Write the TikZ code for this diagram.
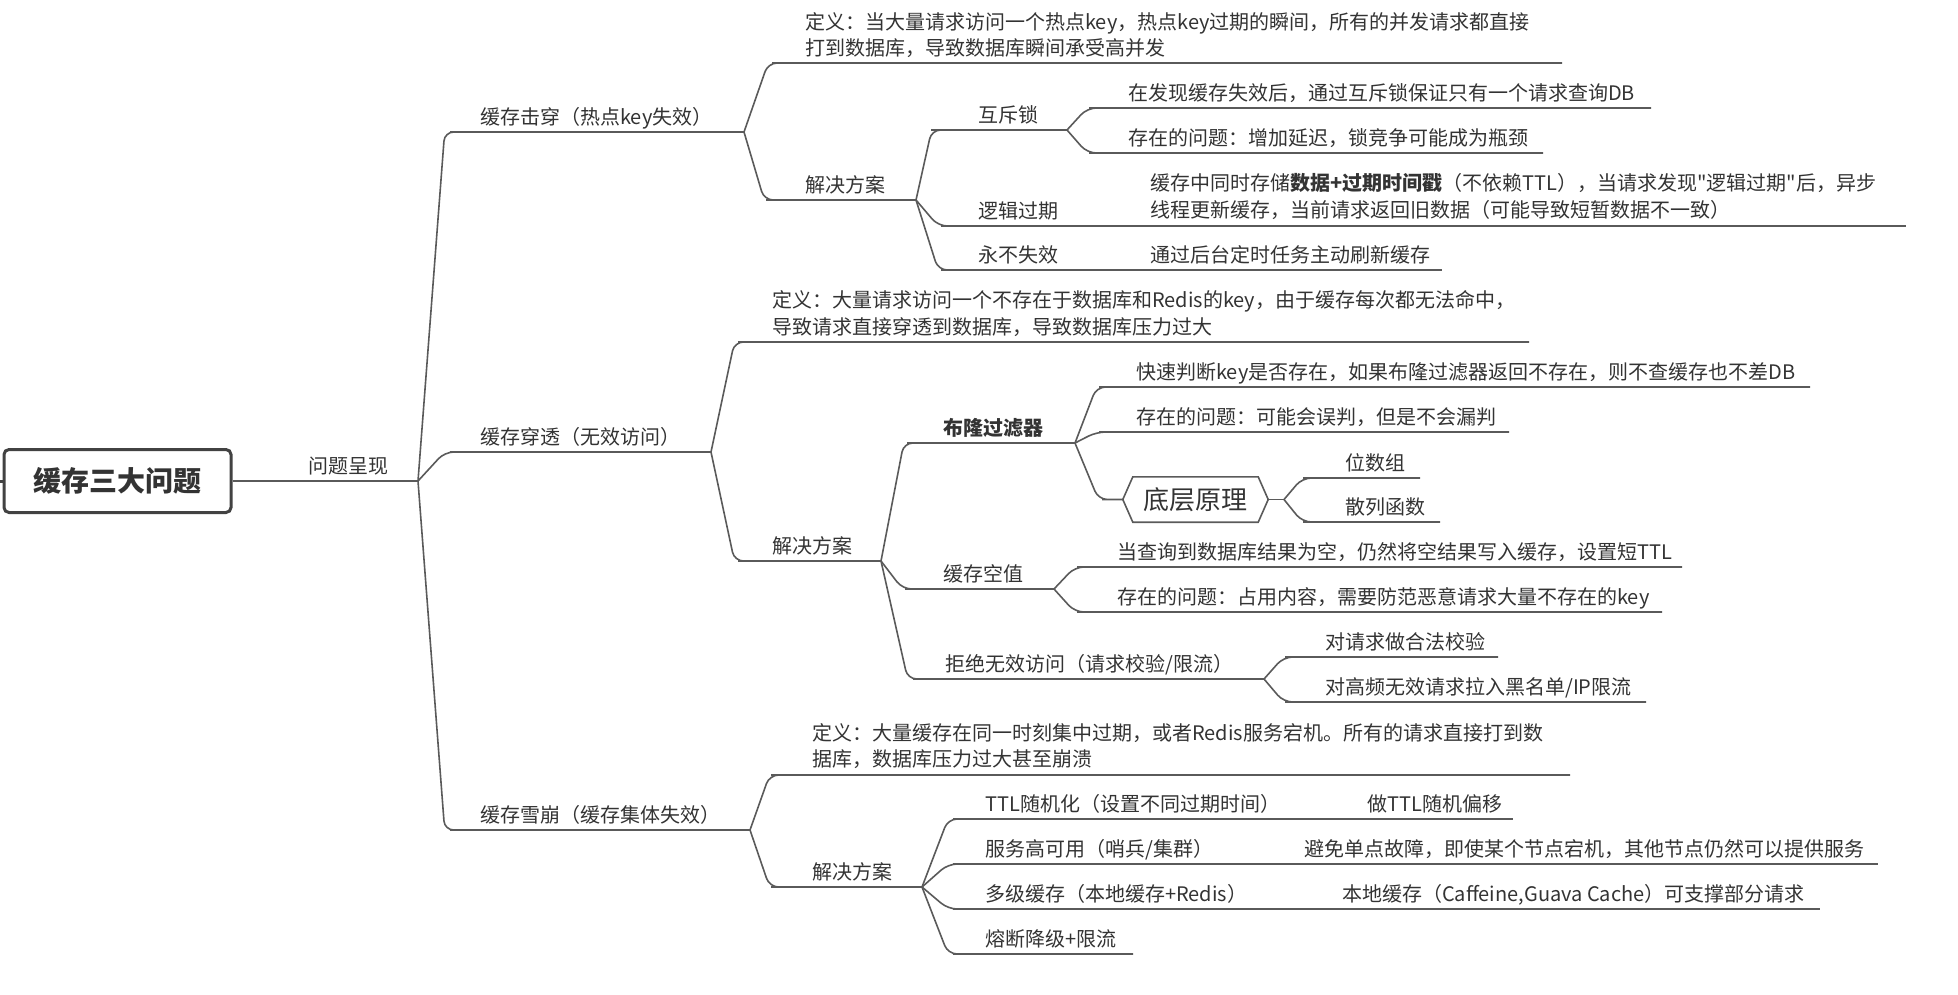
\documentclass[tikz,border=0pt]{standalone}
\usepackage{fontspec}
\setmainfont{Noto Sans CJK SC}[Ligatures=TeXOff]
\usetikzlibrary{calc}
\definecolor{textc}{HTML}{333333}
\definecolor{linec}{HTML}{5A5A5A}
\definecolor{rootc}{HTML}{424242}
\newcommand\brc[3]{\draw[conn] (#1) -- ($(#2)!0.35!(#1 |- #2)$) -- (#2) -- (#3);}
\tikzset{
  conn/.style={draw=linec, line width=1.6pt, rounded corners=9pt},
  txt/.style={anchor=base west, inner sep=0pt, text=textc, font=\fontsize{20}{26.5}\selectfont},
  mtxt/.style={anchor=west, align=left, inner sep=0pt, text=textc, font=\fontsize{20}{26.5}\selectfont},
  btxt/.style={txt, font=\fontsize{20}{26.5}\selectfont\bfseries},
  rootbox/.style={draw=rootc, line width=3pt, rounded corners=5pt, fill=white, minimum width=227pt, minimum height=63pt, inner sep=0pt, text=textc, font=\fontsize{28}{32}\selectfont\bfseries},
  hexn/.style={minimum width=145pt, minimum height=45pt, inner sep=0pt, text=textc, font=\fontsize{26}{30}\selectfont}
}
\begin{document}
\begin{tikzpicture}[x=1pt, y=-1pt]
\useasboundingbox (0,0) rectangle (1958,994);
% root
\node[rootbox] (root) at (117.5,481) {缓存三大问题};
\draw[draw=rootc, line width=3pt] (0,481) -- (root.west);
\coordinate (P-e) at (418,481);
\node[txt] (P) at (308,473) {问题呈现};
\draw[conn] (root.east) -- (P-e);

% ---------- A 缓存击穿
\coordinate (A-s) at (459,132); \coordinate (A-e) at (744,132);
\node[txt] (A) at (480,124) {缓存击穿（热点key失效）};
\brc{P-e}{A-s}{A-e}

\coordinate (A1-s) at (781,63); \coordinate (A1-e) at (1562,63);
\node[mtxt] (A1) at (805,35) {定义：当大量请求访问一个热点key，热点key过期的瞬间，所有的并发请求都直接\\打到数据库，导致数据库瞬间承受高并发};
\brc{A-e}{A1-s}{A1-e}

\coordinate (A2-s) at (775,200); \coordinate (A2-e) at (916,200);
\node[txt] (A2) at (805,192) {解决方案};
\brc{A-e}{A2-s}{A2-e}

\coordinate (A21-s) at (940,130); \coordinate (A21-e) at (1067,130);
\node[txt] (A21) at (978,122) {互斥锁};
\brc{A2-e}{A21-s}{A21-e}

\coordinate (A211-s) at (1098,108); \coordinate (A211-e) at (1651,108);
\node[txt] (A211) at (1128,100) {在发现缓存失效后，通过互斥锁保证只有一个请求查询DB};
\brc{A21-e}{A211-s}{A211-e}

\coordinate (A212-s) at (1098,153); \coordinate (A212-e) at (1543,153);
\node[txt] (A212) at (1128,145) {存在的问题：增加延迟，锁竞争可能成为瓶颈};
\brc{A21-e}{A212-s}{A212-e}

\coordinate (A22-s) at (950,226); \coordinate (A22-e) at (1095,226);
\node[txt] (A22) at (978,218) {逻辑过期};
\brc{A2-e}{A22-s}{A22-e}

\coordinate (A221-s) at (1110,226); \coordinate (A221-e) at (1906,226);
\node[mtxt] (A221) at (1150,196.5) {缓存中同时存储\textbf{数据+过期时间戳}（不依赖TTL），当请求发现"逻辑过期"后，异步\\线程更新缓存，当前请求返回旧数据（可能导致短暂数据不一致）};
\draw[conn] (A22-e) -- (A221-s) -- (A221-e);

\coordinate (A23-s) at (950,270); \coordinate (A23-e) at (1095,270);
\node[txt] (A23) at (978,262) {永不失效};
\brc{A2-e}{A23-s}{A23-e}

\coordinate (A231-s) at (1110,270); \coordinate (A231-e) at (1442,270);
\node[txt] (A231) at (1150,262) {通过后台定时任务主动刷新缓存};
\draw[conn] (A23-e) -- (A231-s) -- (A231-e);

% ---------- B 缓存穿透
\coordinate (B-s) at (459,452); \coordinate (B-e) at (711,452);
\node[txt] (B) at (480,444) {缓存穿透（无效访问）};
\brc{P-e}{B-s}{B-e}

\coordinate (B1-s) at (747,342); \coordinate (B1-e) at (1529,342);
\node[mtxt] (B1) at (772,313.5) {定义：大量请求访问一个不存在于数据库和Redis的key，由于缓存每次都无法命中，\\导致请求直接穿透到数据库，导致数据库压力过大};
\brc{B-e}{B1-s}{B1-e}

\coordinate (B2-s) at (747,561); \coordinate (B2-e) at (881,561);
\node[txt] (B2) at (772,553) {解决方案};
\brc{B-e}{B2-s}{B2-e}

\coordinate (B21-s) at (916,443); \coordinate (B21-e) at (1075,443);
\node[btxt] (B21) at (943,435) {布隆过滤器};
\brc{B2-e}{B21-s}{B21-e}

\coordinate (B211-s) at (1108,387); \coordinate (B211-e) at (1810,387);
\node[txt] (B211) at (1136,379) {快速判断key是否存在，如果布隆过滤器返回不存在，则不查缓存也不差DB};
\brc{B21-e}{B211-s}{B211-e}

\coordinate (B212-s) at (1108,432); \coordinate (B212-e) at (1509,432);
\node[txt] (B212) at (1136,424) {存在的问题：可能会误判，但是不会漏判};
\brc{B21-e}{B212-s}{B212-e}

\node[hexn] (hex) at (1195.5,499.5) {底层原理};
\draw[conn, sharp corners] (hex.west) -- ([xshift=10pt]hex.north west) -- ([xshift=-10pt]hex.north east) -- (hex.east) -- ([xshift=-10pt]hex.south east) -- ([xshift=10pt]hex.south west) -- cycle;
\coordinate (hex-s) at (1111,499.5); \coordinate (hex-e) at (1284,499.5);
\brc{B21-e}{hex-s}{hex.west}
\draw[conn] (hex.east) -- (hex-e);

\coordinate (B2131-s) at (1312,478); \coordinate (B2131-e) at (1420,478);
\node[txt] (B2131) at (1345,470) {位数组};
\brc{hex-e}{B2131-s}{B2131-e}

\coordinate (B2132-s) at (1312,522); \coordinate (B2132-e) at (1440,522);
\node[txt] (B2132) at (1345,514) {散列函数};
\brc{hex-e}{B2132-s}{B2132-e}

\coordinate (B22-s) at (914,589); \coordinate (B22-e) at (1054,589);
\node[txt] (B22) at (943,581) {缓存空值};
\brc{B2-e}{B22-s}{B22-e}

\coordinate (B221-s) at (1086,567); \coordinate (B221-e) at (1682,567);
\node[txt] (B221) at (1117,559) {当查询到数据库结果为空，仍然将空结果写入缓存，设置短TTL};
\brc{B22-e}{B221-s}{B221-e}

\coordinate (B222-s) at (1086,612); \coordinate (B222-e) at (1662,612);
\node[txt] (B222) at (1117,604) {存在的问题：占用内容，需要防范恶意请求大量不存在的key};
\brc{B22-e}{B222-s}{B222-e}

\coordinate (B23-s) at (922,679); \coordinate (B23-e) at (1264,679);
\node[txt] (B23) at (945,671) {拒绝无效访问（请求校验/限流）};
\brc{B2-e}{B23-s}{B23-e}

\coordinate (B231-s) at (1294,657); \coordinate (B231-e) at (1498,657);
\node[txt] (B231) at (1325,649) {对请求做合法校验};
\brc{B23-e}{B231-s}{B231-e}

\coordinate (B232-s) at (1294,702); \coordinate (B232-e) at (1646,702);
\node[txt] (B232) at (1325,694) {对高频无效请求拉入黑名单/IP限流};
\brc{B23-e}{B232-s}{B232-e}

% ---------- C 缓存雪崩
\coordinate (C-s) at (459,830); \coordinate (C-e) at (750,830);
\node[txt] (C) at (480,822) {缓存雪崩（缓存集体失效）};
\brc{P-e}{C-s}{C-e}

\coordinate (C1-s) at (780,775); \coordinate (C1-e) at (1570,775);
\node[mtxt] (C1) at (812,746) {定义：大量缓存在同一时刻集中过期，或者Redis服务宕机。所有的请求直接打到数\\据库，数据库压力过大甚至崩溃};
\brc{C-e}{C1-s}{C1-e}

\coordinate (C2-s) at (780,887); \coordinate (C2-e) at (922,887);
\node[txt] (C2) at (812,879) {解决方案};
\brc{C-e}{C2-s}{C2-e}

\coordinate (C21-s) at (962,819); \coordinate (C21-e) at (1290,819);
\node[txt] (C21) at (985,811) {TTL随机化（设置不同过期时间）};
\brc{C2-e}{C21-s}{C21-e}
\coordinate (C211-s) at (1320,819); \coordinate (C211-e) at (1513,819);
\node[txt] (C211) at (1367,811) {做TTL随机偏移};
\draw[conn] (C21-e) -- (C211-s) -- (C211-e);

\coordinate (C22-s) at (962,864); \coordinate (C22-e) at (1230,864);
\node[txt] (C22) at (985,856) {服务高可用（哨兵/集群）};
\brc{C2-e}{C22-s}{C22-e}
\coordinate (C221-s) at (1260,864); \coordinate (C221-e) at (1878,864);
\node[txt] (C221) at (1304,856) {避免单点故障，即使某个节点宕机，其他节点仍然可以提供服务};
\draw[conn] (C22-e) -- (C221-s) -- (C221-e);

\coordinate (C23-s) at (962,909); \coordinate (C23-e) at (1270,909);
\node[txt] (C23) at (985,901) {多级缓存（本地缓存+Redis）};
\brc{C2-e}{C23-s}{C23-e}
\coordinate (C231-s) at (1300,909); \coordinate (C231-e) at (1820,909);
\node[txt] (C231) at (1342,901) {本地缓存（Caffeine,Guava Cache）可支撑部分请求};
\draw[conn] (C23-e) -- (C231-s) -- (C231-e);

\coordinate (C24-s) at (962,954); \coordinate (C24-e) at (1133,954);
\node[txt] (C24) at (985,946) {熔断降级+限流};
\brc{C2-e}{C24-s}{C24-e}
\end{tikzpicture}
\end{document}
